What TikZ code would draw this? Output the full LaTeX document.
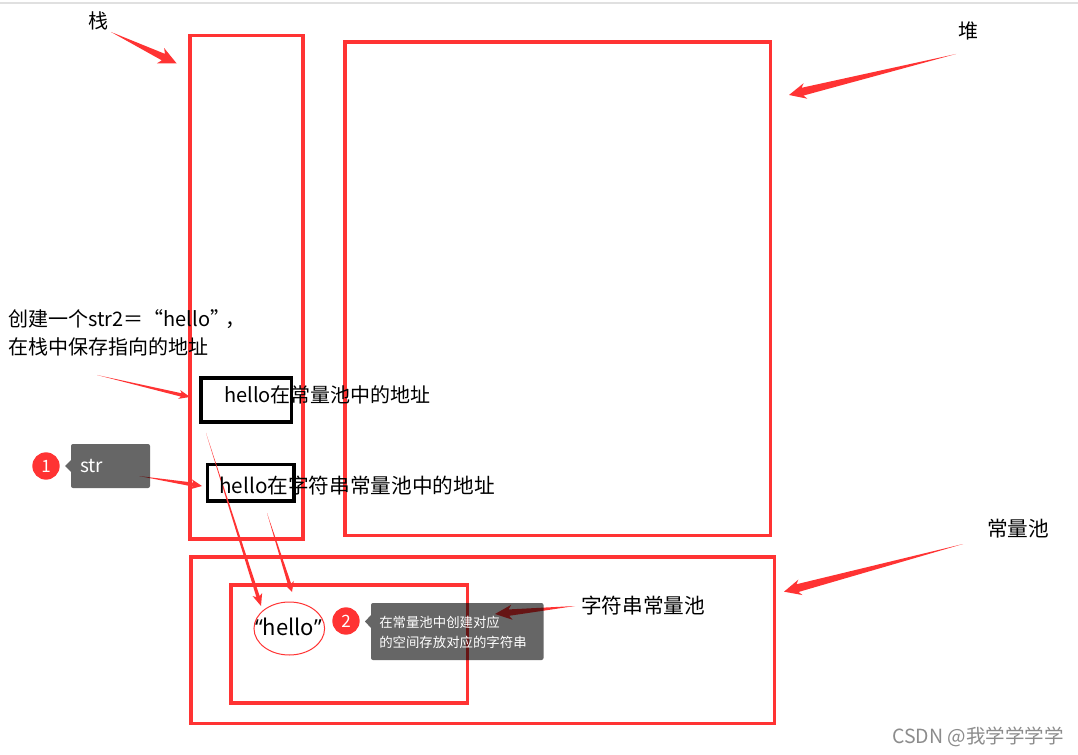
\documentclass[tikz,border=0pt]{standalone}
\usepackage{fontspec}
\setmainfont{Noto Sans CJK SC}
\newfontfamily\latinface{Open Sans}
\usetikzlibrary{calc}
\definecolor{alarm}{HTML}{FF3333}
\definecolor{tipgray}{HTML}{666666}
\newdimen\px \px=0.75pt
\newcommand\fsize[1]{\fontsize{\the\dimexpr #1\px\relax}{\the\dimexpr 1.2\dimexpr #1\px\relax\relax}\selectfont}
% tail, tip, head length, head half width, neck half width
\newcommand\taper[5]{%
  \coordinate (neck) at ($(#2)!#3*0.82\px!(#1)$);
  \coordinate (barb) at ($(#2)!#3\px!(#1)$);
  \fill[alarm] (#1) -- ($(neck)!#5\px!90:(#2)$) -- ($(barb)!#4\px!90:(#2)$) -- (#2)
     -- ($(barb)!#4\px!-90:(#2)$) -- ($(neck)!#5\px!-90:(#2)$) -- cycle;
}
\tikzset{
  redbox/.style={draw=alarm,line width=2.3pt,fill=none},
  blackbox/.style={draw=black,line width=2.4pt},
  lbl/.style={inner sep=0pt,anchor=west,text=black,font=\fsize{20}},
  biglbl/.style={lbl,font=\fsize{20.67}},
  wlbl/.style={inner sep=0pt,anchor=west,text=white},
  badge/.style={circle,fill=alarm,text=white,inner sep=0pt,minimum size=20.5pt,font=\fsize{17}},
  tipbox/.style={fill=tipgray,rounded corners=1.5pt,blend mode=multiply},
}
\begin{document}
\begin{tikzpicture}[x=0.75pt,y=-0.75pt]
\useasboundingbox (0,0) rectangle (1078,755);
\fill[white] (0,0) rectangle (1078,755);
\fill[black!12] (0,2.5) rectangle (1078,4);

% regions
\draw[redbox] (190,35.5) rectangle (303,539);
\draw[redbox] (345,42) rectangle (770.5,535.5);
\draw[redbox] (191,557) rectangle (774.5,723.5);
\draw[redbox] (231,585) rectangle (467.5,703);

\draw[blackbox] (201,378) rectangle (291.5,422);
\draw[blackbox] (207.5,464.5) rectangle (294,501);
\draw[alarm,line width=0.75pt] (289.3,628.5) ellipse [x radius=35.3,y radius=26.5];

% named connector ends
\coordinate (zhanT) at (111,32);   \coordinate (zhanH) at (176.7,63.5);
\coordinate (duiT)  at (956,54);   \coordinate (duiH)  at (789,95);
\coordinate (poolT) at (963,544);  \coordinate (poolH) at (784,591.7);
\coordinate (strT)  at (575,606);  \coordinate (strH)  at (495,614);
\coordinate (sT)    at (139,476);  \coordinate (sH)    at (202,486);
\coordinate (newT)  at (97,375);   \coordinate (newH)  at (190,397);
\coordinate (lnAT)  at (206,433);  \coordinate (lnAH)  at (261,606);
\coordinate (lnBT)  at (267,513);  \coordinate (lnBH)  at (292,592);

\taper{zhanT}{zhanH}{18}{8.5}{3.6}
\taper{duiT}{duiH}{17}{8}{4}
\taper{poolT}{poolH}{17}{8}{4}
\taper{strT}{strH}{17}{7.5}{3.2}
\taper{sT}{sH}{11}{5}{2}
\taper{newT}{newH}{11}{4.5}{1.7}
\taper{lnAT}{lnAH}{12}{5}{1.7}
\taper{lnBT}{lnBH}{10}{5}{1.7}

% tooltips
\path[tipbox] (71,444) rectangle (150,488);
\fill[tipgray] (71,460) -- (65,466) -- (71,472) -- cycle;
\path[tipbox] (371,603) rectangle (543.5,660);
\fill[tipgray] (371,615) -- (365,621.5) -- (371,628) -- cycle;

% badges
\node[badge] (one) at (46,466) {1};
\node[badge] (two) at (346,621) {2};

% texts
\node[lbl] (tzhan) at (88,21) {栈};
\node[lbl] (tdui) at (958,31) {堆};
\node[biglbl] (tpool) at (987,529) {常量池};
\node[biglbl] (tstr) at (581,606) {字符串常量池};
\node[lbl] (new1) at (8,319) {创建一个str2＝“hello”\kern-5\px ，};
\node[lbl] (new2) at (8,347) {在栈中保存指向的地址};
\node[lbl] (addrA) at (224,395) {hello在常量池中的地址};
\node[biglbl] (addrB) at (219,486) {hello在字符串常量池中的地址};
\node[lbl,font=\fsize{22},anchor=center] (hello) at (288.5,627) {{\latinface “}hello{\latinface ”}};
\node[wlbl,font=\fsize{19}] (tstrv) at (80,466) {str};
\node[wlbl,font=\fsize{13.4}] (tipA) at (379,622) {在常量池中创建对应};
\node[wlbl,font=\fsize{13.4}] (tipB) at (379,642) {的空间存放对应的字符串};
\node[inner sep=0pt,anchor=west,text=black!45,font=\fsize{19.5}] (mark) at (892,737) {CSDN @我学学学学};
\end{tikzpicture}
\end{document}
